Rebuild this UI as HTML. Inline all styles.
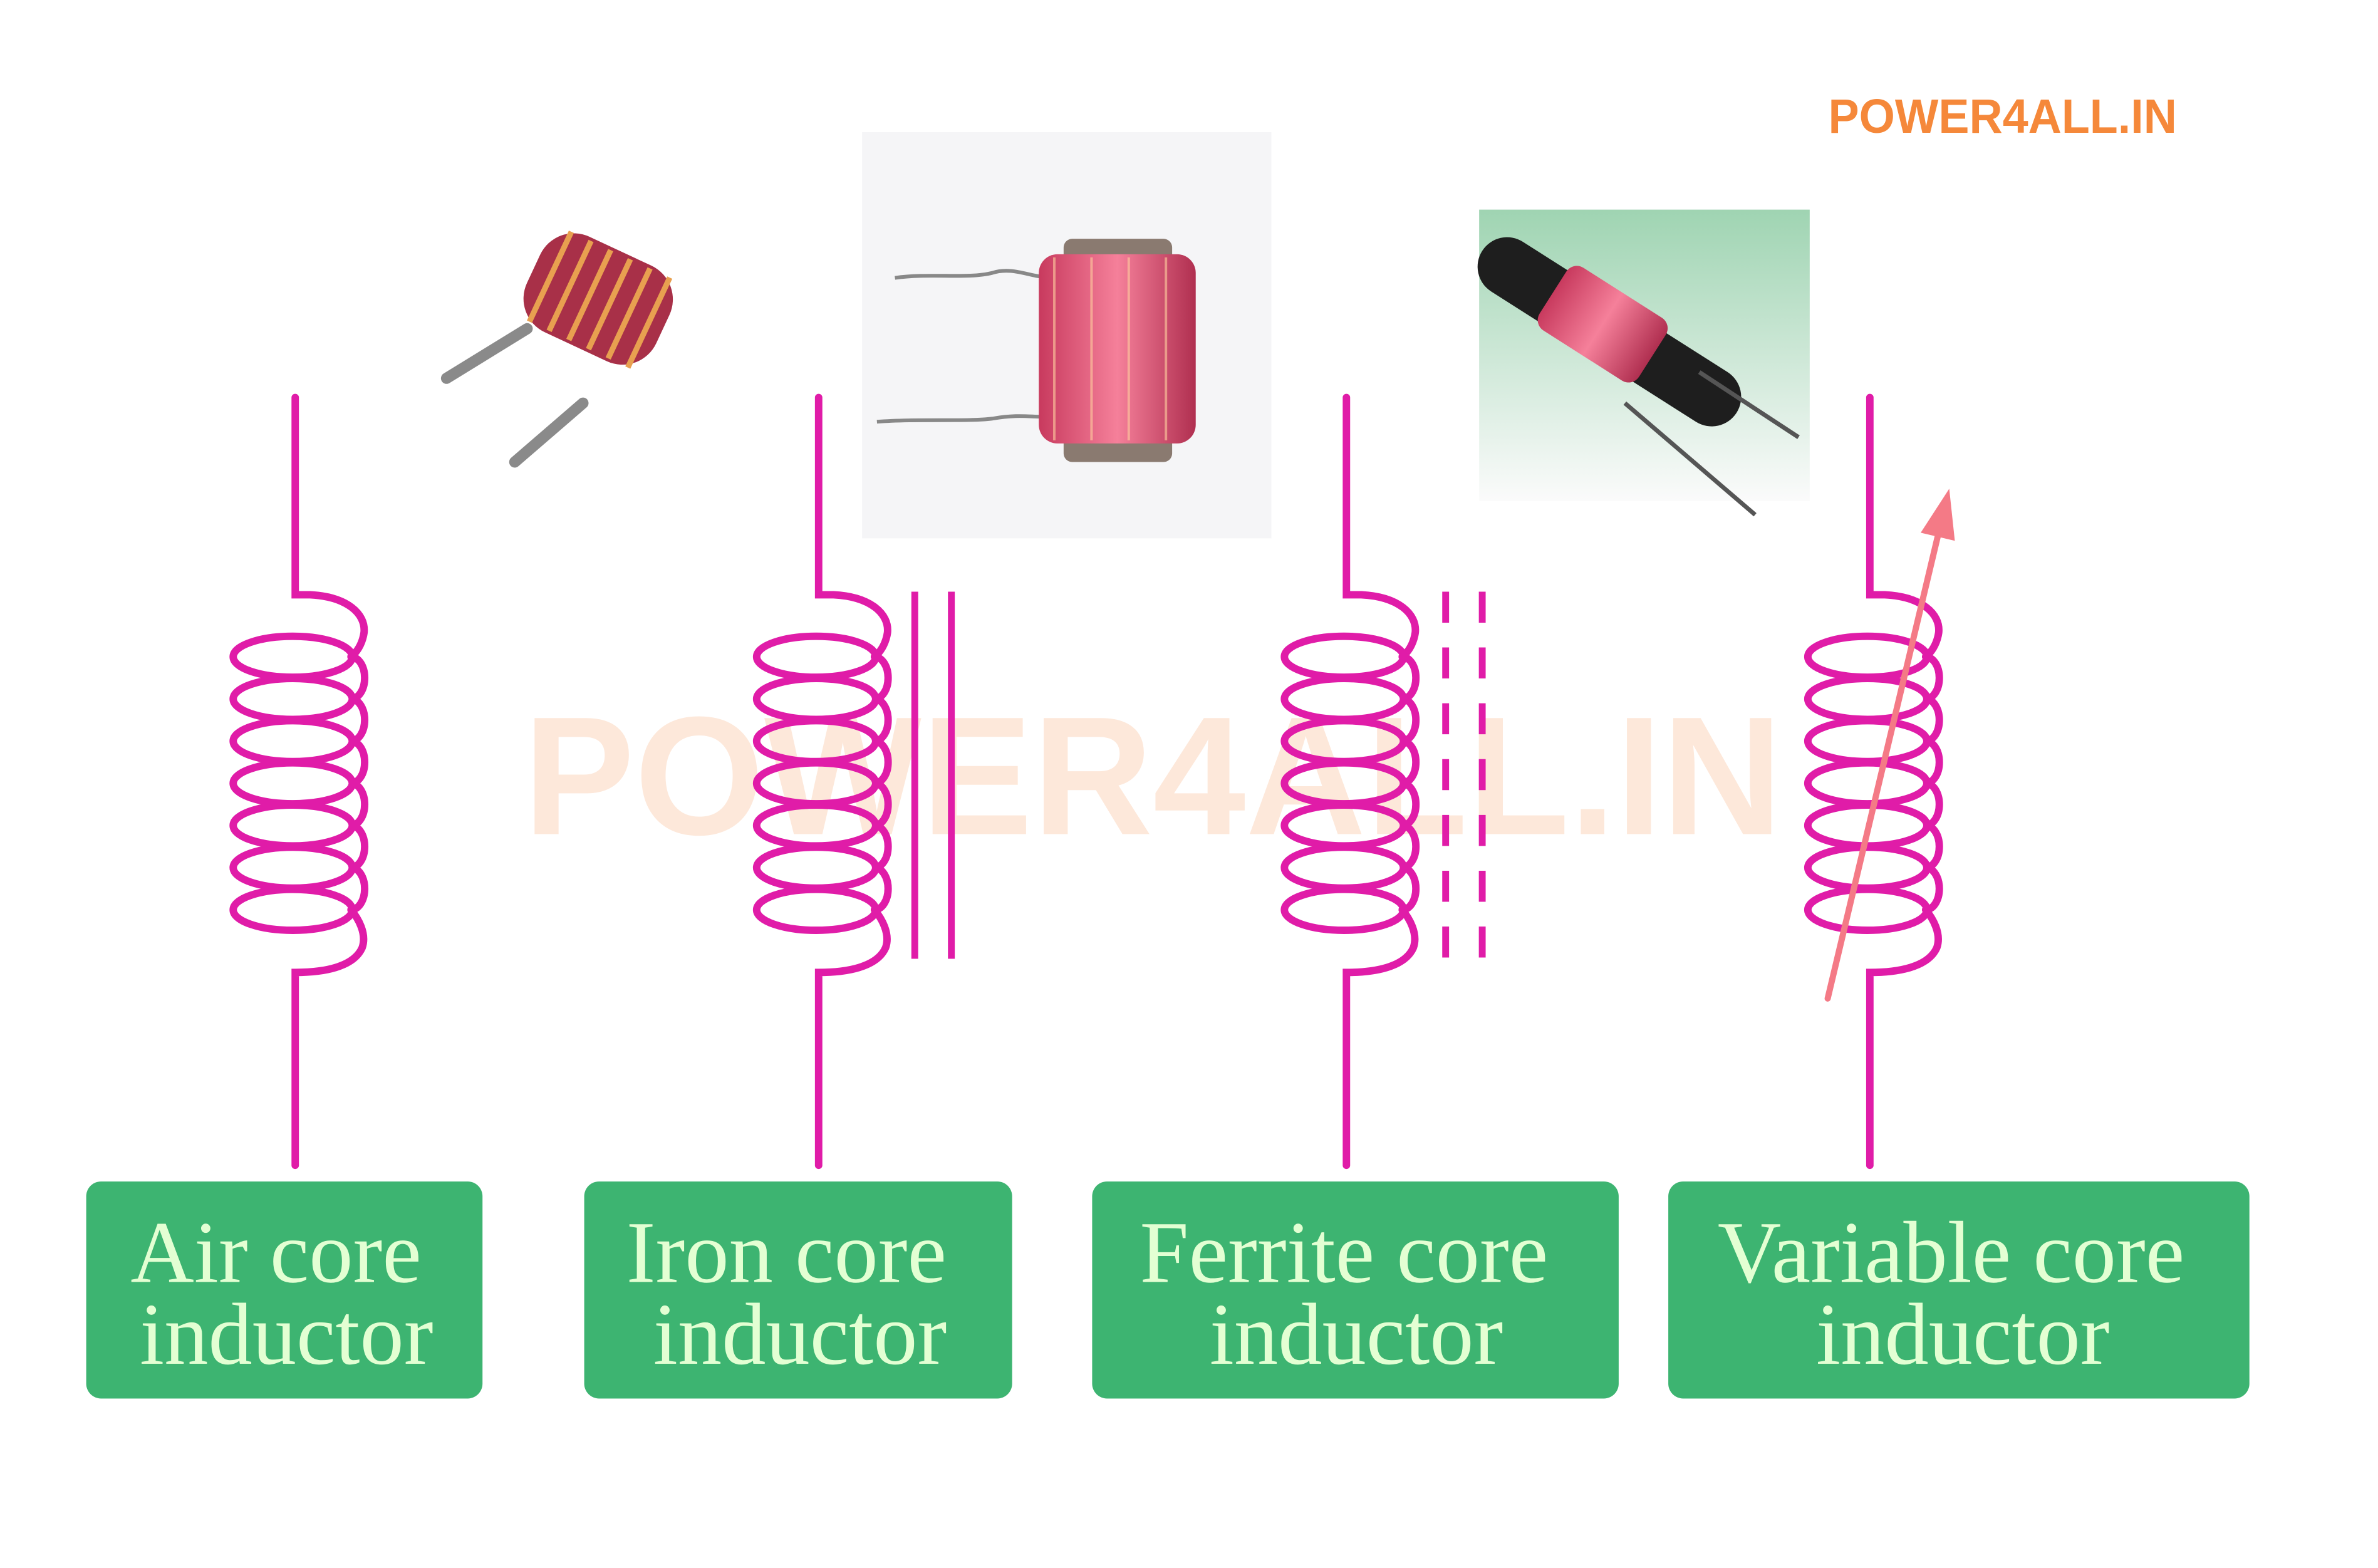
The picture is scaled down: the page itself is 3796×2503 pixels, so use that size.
<!DOCTYPE html>
<html><head><meta charset="utf-8"><style>
html,body{margin:0;padding:0;background:#fff;}
svg{display:block;}
.lbl{font-family:"Liberation Serif",serif;fill:#e3ffd3;font-size:142px;}
</style></head><body>
<svg width="3796" height="2503" viewBox="0 0 3796 2503" xmlns="http://www.w3.org/2000/svg">
<defs>
<linearGradient id="pk" x1="0" y1="0" x2="1" y2="0">
<stop offset="0" stop-color="#c83a5e"/><stop offset="0.5" stop-color="#f5809a"/><stop offset="1" stop-color="#b02f50"/>
</linearGradient>
<linearGradient id="gb" x1="0" y1="0" x2="0" y2="1">
<stop offset="0" stop-color="#9fd4b2"/><stop offset="1" stop-color="#fbfbfb"/>
</linearGradient>
<g id="coil" fill="none" stroke="#e01ca8" stroke-width="12" stroke-linecap="round">
<path d="M476,641 V959 H500 C560,962 590,990 587,1020 C584,1040 574,1053 566,1059"/>
<ellipse cx="472" cy="1059" rx="96" ry="33"/>
<ellipse cx="472" cy="1127" rx="96" ry="33"/>
<ellipse cx="472" cy="1195" rx="96" ry="33"/>
<ellipse cx="472" cy="1263" rx="96" ry="33"/>
<ellipse cx="472" cy="1331" rx="96" ry="33"/>
<ellipse cx="472" cy="1399" rx="96" ry="33"/>
<ellipse cx="472" cy="1467" rx="96" ry="33"/>
<path d="M566,1059 A22,34 0 0 1 566,1127 A22,34 0 0 1 566,1195 A22,34 0 0 1 566,1263 A22,34 0 0 1 566,1331 A22,34 0 0 1 566,1399 A22,34 0 0 1 566,1467"/>
<path d="M566,1467 C577,1480 592,1505 584,1528 C570,1560 520,1568 476,1568 V1879"/>
</g>
</defs>
<g transform="scale(0.99)">
<!-- watermark -->
<text x="844" y="1345" textLength="2030" lengthAdjust="spacingAndGlyphs" font-family="Liberation Sans, sans-serif" font-weight="bold" font-size="272" fill="#fde8da">POWER4ALL.IN</text>
<text x="2948" y="214" textLength="562" lengthAdjust="spacingAndGlyphs" font-family="Liberation Sans, sans-serif" font-weight="bold" font-size="78" fill="#f5883a">POWER4ALL.IN</text>

<!-- air photo -->
<g>
<line x1="720" y1="610" x2="850" y2="530" stroke="#8a8a8a" stroke-width="18" stroke-linecap="round"/>
<line x1="830" y1="745" x2="940" y2="650" stroke="#8a8a8a" stroke-width="18" stroke-linecap="round"/>
<g transform="rotate(25 960 480)">
<rect x="850" y="395" width="230" height="170" rx="60" fill="#a83048"/>
<g fill="none" stroke="#e8a050" stroke-width="9">
<line x1="880" y1="400" x2="880" y2="560"/><line x1="915" y1="400" x2="915" y2="560"/><line x1="950" y1="400" x2="950" y2="560"/><line x1="985" y1="400" x2="985" y2="560"/><line x1="1020" y1="400" x2="1020" y2="560"/><line x1="1055" y1="400" x2="1055" y2="560"/>
</g>
</g>
</g>

<!-- iron photo -->
<rect x="1390" y="213" width="660" height="655" fill="#f5f5f7"/>
<path d="M1443,448 C1500,440 1560,450 1600,440 C1630,430 1660,445 1680,446" fill="none" stroke="#888" stroke-width="6"/>
<path d="M1414,680 C1480,675 1560,680 1600,675 C1640,668 1660,672 1680,672" fill="none" stroke="#888" stroke-width="6"/>
<rect x="1715" y="385" width="175" height="40" rx="14" fill="#8a7a70"/>
<rect x="1715" y="700" width="175" height="45" rx="14" fill="#8a7a70"/>
<rect x="1675" y="410" width="253" height="305" rx="30" fill="url(#pk)"/>
<g stroke="#ffd0a0" stroke-width="4" opacity="0.6">
<line x1="1700" y1="415" x2="1700" y2="710"/><line x1="1760" y1="415" x2="1760" y2="710"/><line x1="1820" y1="415" x2="1820" y2="710"/><line x1="1880" y1="415" x2="1880" y2="710"/>
</g>

<!-- ferrite photo -->
<rect x="2385" y="338" width="533" height="470" fill="url(#gb)"/>
<line x1="2430" y1="430" x2="2760" y2="640" stroke="#1e1e1e" stroke-width="95" stroke-linecap="round"/>
<line x1="2740" y1="600" x2="2900" y2="705" stroke="#555" stroke-width="7"/>
<line x1="2620" y1="650" x2="2830" y2="830" stroke="#555" stroke-width="7"/>
<g transform="rotate(32.5 2580 520)">
<rect x="2490" y="460" width="190" height="120" rx="20" fill="url(#pk)"/>
</g>

<!-- coils -->
<use href="#coil"/>
<use href="#coil" transform="translate(844 0)"/>
<use href="#coil" transform="translate(1695 0)"/>
<use href="#coil" transform="translate(2539 0)"/>

<g stroke="#e01ca8" stroke-width="11">
<line x1="1475" y1="954" x2="1475" y2="1546"/>
<line x1="1534" y1="954" x2="1534" y2="1546"/>
</g>
<g stroke="#e01ca8" stroke-width="11" stroke-dasharray="50 40">
<line x1="2331" y1="954" x2="2331" y2="1546"/>
<line x1="2390" y1="954" x2="2390" y2="1546"/>
</g>
<line x1="2947" y1="1610" x2="3128" y2="850" stroke="#f47a86" stroke-width="10" stroke-linecap="round"/>
<polygon points="3143,788 3152,872 3097,859" fill="#f47a86"/>

<!-- boxes -->
<rect x="139" y="1905" width="639" height="350" rx="24" fill="#3db471"/>
<rect x="942" y="1905" width="690" height="350" rx="24" fill="#3db471"/>
<rect x="1761" y="1905" width="849" height="350" rx="24" fill="#3db471"/>
<rect x="2690" y="1905" width="937" height="350" rx="24" fill="#3db471"/>

<g class="lbl" text-anchor="middle">
<text x="445" y="2067">Air core</text>
<text x="462" y="2199">inductor</text>
<text x="1268" y="2067">Iron core</text>
<text x="1290" y="2199">inductor</text>
<text x="2167" y="2067">Ferrite core</text>
<text x="2187" y="2199">inductor</text>
<text x="3146" y="2067">Variable core</text>
<text x="3165" y="2199">inductor</text>
</g>
</g>
</svg>
</body></html>
